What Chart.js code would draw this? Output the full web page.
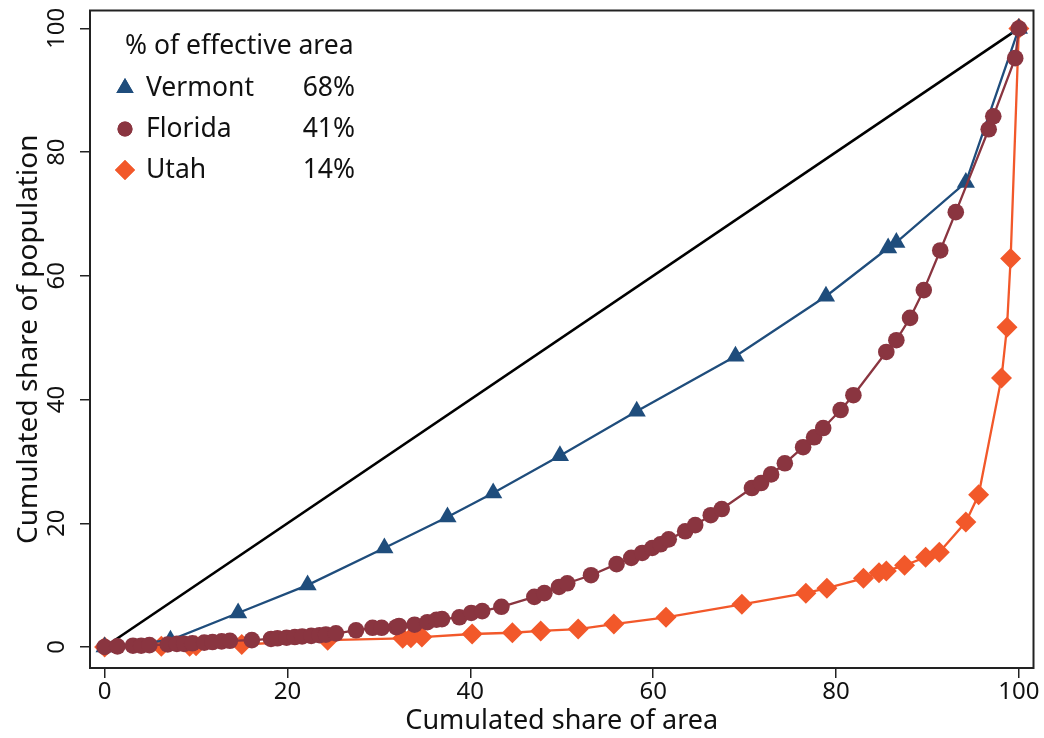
<!DOCTYPE html>
<html>
<head>
<meta charset="utf-8">
<script src="https://cdn.jsdelivr.net/npm/chart.js@4.4.1/dist/chart.umd.min.js"></script>
<style>
  html, body { margin:0; padding:0; background:#fff; }
  #wrap { width:1044px; height:738px; }
</style>
</head>
<body>
<div id="wrap"><canvas id="lorenz" width="1044" height="738"></canvas></div>
<script>
// Lorenz-style curves: cumulated share of area vs cumulated share of population

const xTicks = [0, 20, 40, 60, 80, 100];
const yTicks = [0, 20, 40, 60, 80, 100];

const legendTitle = '% of effective area';
const states = ['Vermont', 'Florida', 'Utah'];
const effectiveArea = ['68%', '41%', '14%'];

const vermontX = [0, 7.2, 14.6, 22.2, 30.6, 37.5, 42.5, 49.8, 58.2, 69.0, 78.9, 85.7, 86.6, 94.2, 100];
const vermontY = [0, 1.1, 5.5, 10.0, 16.0, 21.0, 24.9, 30.9, 38.1, 47.0, 56.7, 64.5, 65.4, 75.1, 100];

const floridaX = [0, 1.4, 3.1, 4.0, 4.9, 6.9, 7.9, 8.7, 9.6, 10.9, 11.8, 12.8, 13.7, 16.1, 18.2, 18.9, 19.9, 20.8,
  21.6, 22.6, 23.5, 24.2, 25.3, 27.5, 29.3, 30.3, 31.9, 32.2, 33.9, 35.3, 36.3, 36.9, 38.8, 40.1, 41.3, 43.4,
  47.0, 48.1, 49.7, 50.6, 53.2, 56.0, 57.6, 58.8, 59.9, 60.8, 61.7, 63.5, 64.6, 66.3, 67.5, 70.8, 71.8, 72.9,
  74.4, 76.4, 77.6, 78.6, 80.5, 81.9, 85.5, 86.6, 88.1, 89.6, 91.4, 93.1, 96.7, 97.2, 99.6, 100];
const floridaY = [0, 0.1, 0.2, 0.2, 0.3, 0.4, 0.5, 0.5, 0.6, 0.7, 0.8, 0.9, 1.0, 1.1, 1.3, 1.4, 1.5, 1.6,
  1.7, 1.8, 1.9, 2.0, 2.2, 2.7, 3.1, 3.1, 3.2, 3.4, 3.6, 4.0, 4.4, 4.5, 4.8, 5.5, 5.8, 6.5,
  8.1, 8.7, 9.7, 10.3, 11.6, 13.4, 14.4, 15.2, 16.0, 16.6, 17.4, 18.7, 19.7, 21.3, 22.3, 25.7, 26.5, 27.9,
  29.7, 32.3, 33.9, 35.4, 38.3, 40.7, 47.7, 49.6, 53.2, 57.7, 64.1, 70.3, 83.7, 85.8, 95.2, 100];

const utahX = [0, 6.2, 9.3, 10.0, 15.0, 24.4, 32.6, 33.5, 34.7, 40.2, 44.6, 47.7, 51.8, 55.7, 61.4, 69.7,
  76.7, 79.0, 83.0, 84.7, 85.5, 87.5, 89.8, 91.3, 94.2, 95.6, 98.1, 98.7, 99.1, 100];
const utahY = [0, 0.1, 0.1, 0.2, 0.4, 1.1, 1.4, 1.5, 1.6, 2.1, 2.3, 2.6, 2.9, 3.7, 4.8, 6.9,
  8.7, 9.5, 11.1, 12.0, 12.3, 13.2, 14.5, 15.3, 20.2, 24.6, 43.5, 51.7, 62.8, 100];

const equalityX = [0, 100];
const equalityY = [0, 100];

const colors = { Vermont:'#1f4d7c', Florida:'#8a3540', Utah:'#f2582a' };
const markers = { Vermont:['triangle', 10.5], Florida:['circle', 8.3], Utah:['rectRot', 10.5] };

function pts(xs, ys){ return xs.map((x,i)=> ({ x, y: ys[i] })); }

function series(name, xs, ys, order){
  const [style, r] = markers[name];
  return {
    label: name, data: pts(xs, ys), order,
    borderColor: colors[name], backgroundColor: colors[name],
    borderWidth: 2.3, pointStyle: style, pointRadius: r, pointBorderWidth: 0,
    pointBackgroundColor: colors[name]
  };
}

const FONT = '"Noto Sans", "Open Sans", sans-serif';

function drawMarker(ctx, style, r, x, y){
  if (Chart.helpers && Chart.helpers.drawPoint){
    Chart.helpers.drawPoint(ctx, { pointStyle:style, radius:r, rotation:0, borderWidth:0 }, x, y);
    ctx.fill();
    return;
  }
  ctx.beginPath();
  if (style==='circle') ctx.arc(x, y, r, 0, Math.PI*2);
  else if (style==='triangle'){ ctx.moveTo(x, y-r); ctx.lineTo(x+r*0.866, y+r/2); ctx.lineTo(x-r*0.866, y+r/2); }
  else { ctx.moveTo(x, y-r); ctx.lineTo(x+r, y); ctx.lineTo(x, y+r); ctx.lineTo(x-r, y); }
  ctx.closePath(); ctx.fill();
}

// frame, rotated y tick labels and the two-column legend
const extras = {
  id: 'extras',
  afterDraw(chart){
    const { ctx, chartArea:a, scales:{ y } } = chart;
    ctx.save();
    ctx.strokeStyle = '#222'; ctx.lineWidth = 2;
    ctx.strokeRect(a.left, a.top, a.right - a.left, a.bottom - a.top);

    ctx.fillStyle = '#111';
    ctx.font = '24px ' + FONT;
    ctx.textAlign = 'center'; ctx.textBaseline = 'middle';
    yTicks.forEach(v=>{
      ctx.save();
      ctx.translate(57, y.getPixelForValue(v));
      ctx.rotate(-Math.PI/2);
      ctx.fillText(String(v), 0, 0);
      ctx.restore();
    });

    ctx.font = '26.5px ' + FONT;
    ctx.textAlign = 'left';
    ctx.fillText(legendTitle, 125, 46);
    states.forEach((s,i)=>{
      const cy = 88 + i*41;
      ctx.fillStyle = colors[s];
      const r = markers[s][0]==='circle' ? 7.5 : 10;
      drawMarker(ctx, markers[s][0], r, 125, cy);
      ctx.fillStyle = '#111';
      ctx.textAlign = 'left';
      ctx.fillText(s, 146, cy);
      ctx.textAlign = 'right';
      ctx.fillText(effectiveArea[i], 355, cy);
    });
    ctx.restore();
  }
};

const ctx = document.getElementById('lorenz').getContext('2d');
new Chart(ctx, {
  type: 'scatter',
  data: {
    datasets: [
      series('Florida', floridaX, floridaY, 1),
      series('Vermont', vermontX, vermontY, 2),
      series('Utah', utahX, utahY, 3),
      { label:'equality', data: pts(equalityX, equalityY), order: 4, borderColor:'#000', borderWidth:2.6, pointRadius:0 }
    ]
  },
  options: {
    responsive: false, animation: false, devicePixelRatio: 1,
    showLine: true,
    layout: { padding: { top: 10, right: 9, left: 0, bottom: 0 } },
    plugins: { legend: { display:false }, tooltip: { enabled:false } },
    scales: {
      x: {
        type: 'linear', min: -1.6, max: 101.6,
        afterBuildTicks: s=> { s.ticks = xTicks.map(v=> ({ value:v })); },
        afterFit: s=> { s.height = 70; },
        grid: { drawOnChartArea:false, drawTicks:true, tickLength:10, color:'#222', lineWidth:1.5 },
        border: { display:false },
        ticks: { color:'#111', font:{ family:FONT, size:24 }, padding:0, maxRotation:0 },
        title: { display:true, text:'Cumulated share of area', color:'#111', font:{ family:FONT, size:27 }, padding:{ top:0, bottom:0 } }
      },
      y: {
        type: 'linear', min: -3.4, max: 102.9,
        afterBuildTicks: s=> { s.ticks = yTicks.map(v=> ({ value:v })); },
        afterFit: s=> { s.width = 90; },
        grid: { drawOnChartArea:false, drawTicks:true, tickLength:10, color:'#222', lineWidth:1.5 },
        border: { display:false },
        ticks: { display:false },
        title: { display:true, text:'Cumulated share of population', color:'#111', font:{ family:FONT, size:28 }, padding:{ top:12, bottom:0 } }
      }
    }
  },
  plugins: [extras]
});
</script>
</body>
</html>
